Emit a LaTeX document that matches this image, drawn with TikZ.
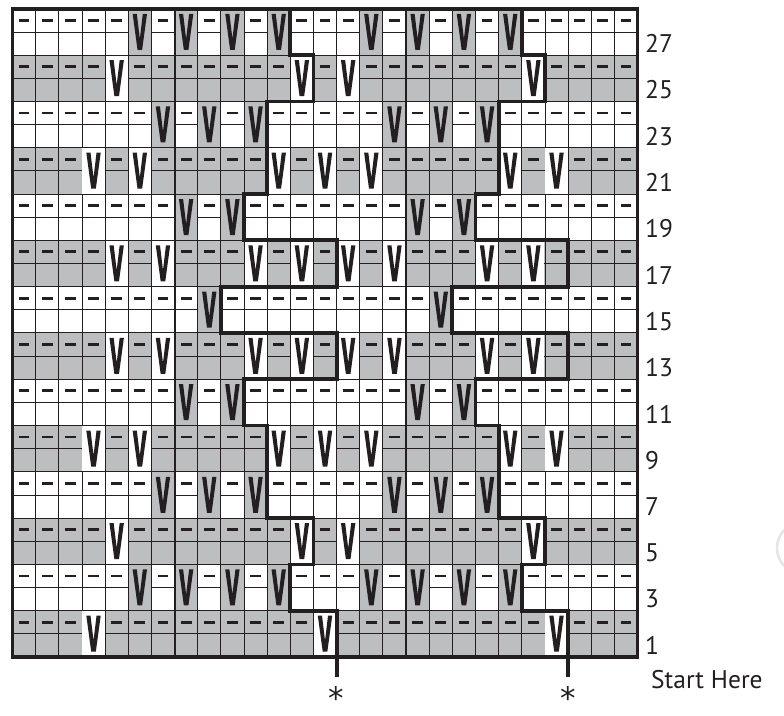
\documentclass[tikz,border=0pt]{standalone}
\usepackage{fontspec}
\setmainfont{PT Sans}
\newfontfamily\astfont{DejaVu Sans}
\definecolor{ink}{RGB}{35,31,32}
\definecolor{band}{RGB}{188,190,192}
\begin{document}
\begin{tikzpicture}[x=1pt,y=-1pt,
  gridline/.style={ink, line width=0.9pt},
  guideline/.style={ink, line width=2pt},
  border/.style={ink, line width=3.8pt},
  repeatline/.style={ink, line width=3.8pt, line cap=butt},
  lbl/.style={anchor=west, inner sep=0pt, font=\fontsize{25.5}{25.5}\selectfont, text=ink},
  astk/.style={anchor=north, inner sep=0pt, font=\astfont\fontsize{31}{31}\selectfont, text=ink}
]
\useasboundingbox (0,0) rectangle (784,715);
\def\W{23.15}\def\X{12.5}\def\B{657}

% faint arc at the right edge
\draw[black!10, line width=2.5pt] (803,548) circle (26);

% colour bands
\foreach \k in {1,3,...,13}
  \fill[band] (\X,{\B-2*\W*\k}) rectangle ({\X+27*\W},{\B-2*\W*(\k-1)});

% grid
\foreach \c in {1,...,26}
  \draw[gridline] ({\X+\c*\W},{\B-28*\W}) -- ({\X+\c*\W},\B);
\foreach \r in {1,...,27}
  \draw[gridline] (\X,{\B-\r*\W}) -- ({\X+27*\W},{\B-\r*\W});

% purl dashes on every wrong-side row
\foreach \k in {1,...,14}
  \foreach \c in {1,...,27}
    \fill[ink] ({\X+(\c-0.5)*\W-5.4},{\B-(2*\k-0.5)*\W-1.4}) rectangle ++(10.8,2.8);

% slipped stitches
\foreach \k/\cols in {1/{4,14,24},2/{6,8,10,12,16,18,20,22},3/{5,13,15,23},4/{7,9,11,17,19,21},
  5/{4,6,12,14,16,22,24},6/{8,10,18,20},7/{5,7,11,13,15,17,21,23},8/{9,19},
  9/{5,7,11,13,15,17,21,23},10/{8,10,18,20},11/{4,6,12,14,16,22,24},12/{7,9,11,17,19,21},
  13/{5,13,15,23},14/{6,8,10,12,16,18,20,22}}{
  \ifodd\k\def\vcol{white}\else\def\vcol{band}\fi
  \foreach \c in \cols {
    \fill[\vcol] ({\X+(\c-1)*\W+0.5},{\B-2*\k*\W+0.5}) rectangle ({\X+\c*\W-0.5},{\B-2*(\k-1)*\W-0.5});
    \pgfmathsetmacro\vx{\X+(\c-0.5)*\W}
    \pgfmathsetmacro\vt{\B-2*\k*\W+5}
    \pgfmathsetmacro\vb{\vt+36}
    \fill[ink] ({\vx-7.2},\vt) -- ({\vx-3},\vt) -- (\vx,{\vb-11}) -- ({\vx+3},\vt)
      -- ({\vx+7.2},\vt) -- ({\vx+2.3},\vb) -- ({\vx-2.3},\vb) -- cycle;
  }
}

% ten-stitch guide lines
\draw[guideline] ({\X+7*\W},{\B-28*\W}) -- ({\X+7*\W},\B);
\draw[guideline] ({\X+17*\W},{\B-28*\W}) -- ({\X+17*\W},\B);

% border
\draw[border] (\X,{\B-28*\W}) rectangle ({\X+27*\W},\B);

% repeat lines
\foreach \off in {0,10}{
  \draw[repeatline] ({\X+(14+\off)*\W},676.5)
    foreach \k/\b in {1/14,2/12,3/13,4/11,5/11,6/10,7/14,8/9,9/14,10/10,11/11,12/11,13/13,14/12}
    { -- ({\X+(\b+\off)*\W},{\B-2*\W*(\k-1)}) -- ({\X+(\b+\off)*\W},{\B-2*\W*\k}) };
}

% asterisks
\node[astk] (ast1) at ({\X+14*\W},686.5) {*};
\node[astk] (ast2) at ({\X+24*\W},686.5) {*};

% row numbers
\foreach \r in {1,3,...,27}
  \node[lbl] (row\r) at (645,{\B-(\r-0.5)*\W}) {\r};

\node[lbl] (start) at (651,680) {Start Here};
\end{tikzpicture}
\end{document}
